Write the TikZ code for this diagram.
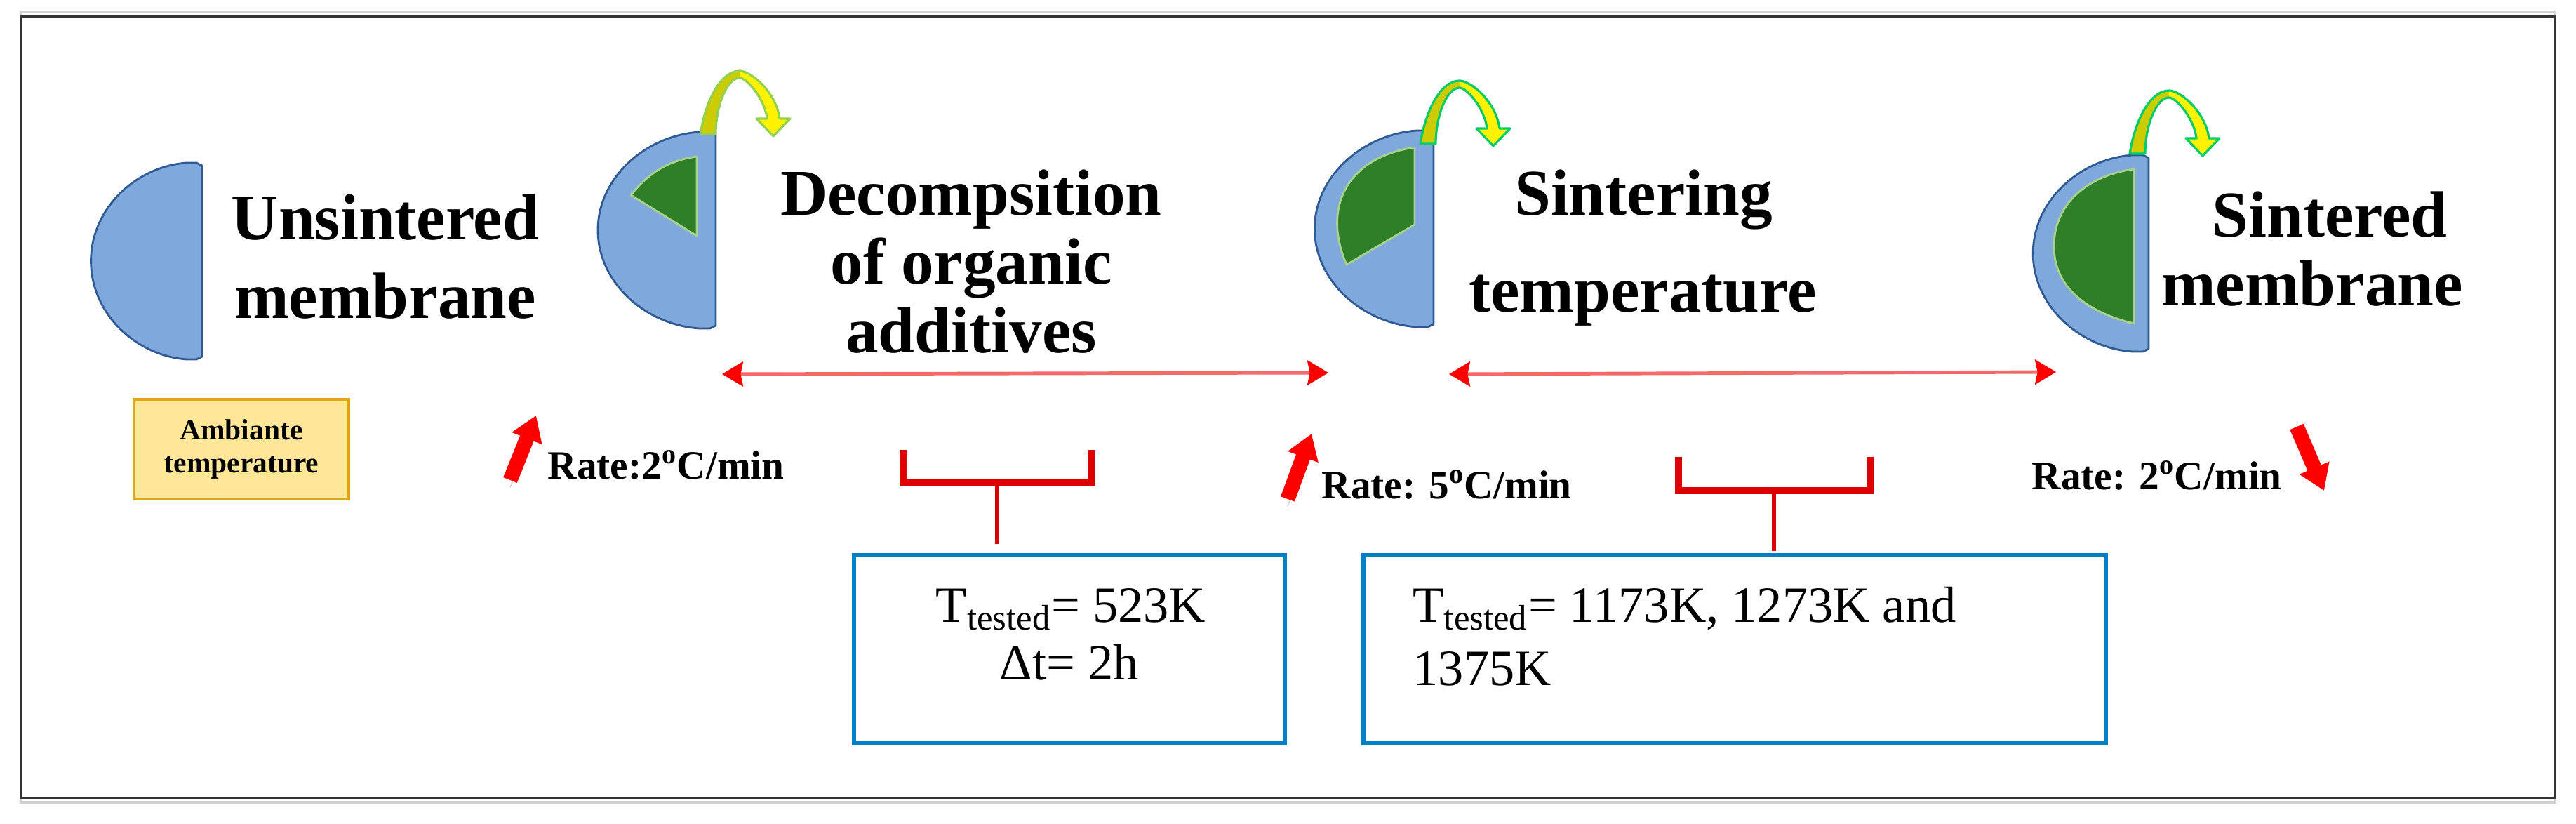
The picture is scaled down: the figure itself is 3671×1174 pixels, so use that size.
\documentclass[tikz,border=0pt]{standalone}
\usepackage{fontspec}
\setmainfont{Liberation Serif}
\usetikzlibrary{arrows.meta}

\definecolor{discblue}{HTML}{7FA8DC}
\definecolor{discline}{HTML}{2F5A93}
\definecolor{coregreen}{HTML}{2F7F28}
\definecolor{coreline}{HTML}{A9D18E}
\definecolor{darkyellow}{HTML}{CCCC00}
\definecolor{paleedge}{HTML}{92D050}
\definecolor{strongedge}{HTML}{00CC66}
\definecolor{boxblue}{HTML}{0080C8}
\definecolor{ambfill}{HTML}{FFE699}
\definecolor{ambline}{HTML}{E0A810}
\definecolor{rangered}{HTML}{F46A6A}
\definecolor{brackred}{HTML}{DD0000}

\tikzset{
	titlelabel/.style={font=\bfseries\fontsize{26.5}{32}\selectfont, align=center, inner sep=0pt, anchor=base},
	ratelabel/.style={font=\bfseries\fontsize{16.3}{20}\selectfont, inner sep=0pt, anchor=base west},
	testlabel/.style={font=\fontsize{20.6}{24}\selectfont, inner sep=0pt, anchor=base},
	testbox/.style={draw=boxblue, line width=1.7pt, minimum height=2.68cm},
	ambbox/.style={draw=ambline, fill=ambfill, line width=1.2pt, minimum width=3.06cm, minimum height=1.42cm,
		font=\bfseries\fontsize{11.8}{13.2}\selectfont, align=center},
	core/.style={fill=coregreen, draw=coreline, line width=0.8pt, line join=round},
	ratearrow/.style={line width=6pt, red, -{Triangle[length=10pt, width=12.5pt]},
		preaction={draw=black!40, -, opacity=.45, shorten >=16pt, transform canvas={yshift=-3pt}}},
	rangearrow/.style={draw=rangered, line width=1.4pt, {Stealth[red, length=8.5pt, width=10pt, inset=1pt]}-{Stealth[red, length=8.5pt, width=10pt, inset=1pt]}},
	bracketline/.style={draw=brackred, line width=2.6pt},
	stemline/.style={draw=brackred, line width=1.5pt},
	pics/halfdisc/.style={code={
		\draw[fill=discblue, draw=discline, line width=0.8pt, line join=round]
			(0,-136) -- (-8,-140) -- (-22,-140) .. controls (-95,-135) and (-160,-75) .. (-160,0)
			.. controls (-160,75) and (-95,135) .. (-22,140) -- (-8,140) -- (0,136) -- cycle;
	}},
	pics/turnarrow/.style={code={
		\fill[darkyellow] (0,0) .. controls (8,-50) and (30,-90) .. (56,-90) -- (56,-80)
			.. controls (38,-80) and (22,-40) .. (22,0) -- cycle;
		\fill[yellow] (56,-90) .. controls (72,-90) and (108,-60) .. (113,-22) -- (128,-22) -- (104,3)
			-- (80,-22) -- (95,-22) .. controls (92,-50) and (66,-80) .. (56,-80) -- cycle;
		\draw[#1, line width=0.9pt, line join=round]
			(0,0) .. controls (8,-50) and (30,-90) .. (56,-90)
			.. controls (72,-90) and (108,-60) .. (113,-22) -- (128,-22) -- (104,3)
			-- (80,-22) -- (95,-22) .. controls (92,-50) and (66,-80) .. (56,-80)
			.. controls (38,-80) and (22,-40) .. (22,0) -- cycle;
	}},
}

\begin{document}
\begin{tikzpicture}[x=0.01cm, y=-0.01cm]
	\useasboundingbox (0,0) rectangle (3671,1174);
	\draw[black!18, line width=1.4pt] (30,17) rectangle (3641,1143);
	\draw[black!80, line width=1.4pt] (30,23) rectangle (3641,1137);

	\pic[xscale=0.99] at (288,372) {halfdisc};
	\pic[xscale=1.05] at (1020,328) {halfdisc};
	\pic[xscale=1.06] at (2043,326) {halfdisc};
	\pic[xscale=1.03] at (3062,361) {halfdisc};

	\draw[core] (993,223) -- (993,336) -- (899,278) .. controls (925,245) and (955,228) .. (993,223) -- cycle;
	\draw[core] (2016,210) -- (2016,320) -- (1919,377) .. controls (1885,300) and (1915,225) .. (2016,210) -- cycle;
	\draw[core] (3041,241) -- (3041,461) .. controls (2975,445) and (2927,410) .. (2927,351) .. controls (2927,290) and (2975,250) .. (3041,241) -- cycle;

	\pic at (998,191) {turnarrow=paleedge};
	\pic at (2024,205) {turnarrow=strongedge};
	\pic at (3035,219) {turnarrow=strongedge};

	\node[titlelabel] (unsintered) at (549,454) {Unsintered\\membrane};
	\node[titlelabel, font=\bfseries\fontsize{26.5}{27.9}\selectfont] (decomp) at (1384,503) {Decompsition\\of organic\\additives};
	\node[titlelabel] (sintering) at (2342,307) {Sintering};
	\node[titlelabel] (temperature) at (2341,445) {temperature};
	\node[titlelabel] (sintered) at (3320,338) {Sintered};
	\node[titlelabel] (membrane) at (3295,436) {membrane};

	\node[ambbox] (ambiante) at (344,640) {Ambiante\\temperature};

	\coordinate (rangeAl) at (1029,533);
	\coordinate (rangeAr) at (1893,531);
	\coordinate (rangeBl) at (2065,533);
	\coordinate (rangeBr) at (2930,530);
	\draw[rangearrow] (rangeAl) -- (rangeAr);
	\draw[rangearrow] (rangeBl) -- (rangeBr);

	\coordinate (riseAs) at (727,684);
	\coordinate (riseAe) at (764,592);
	\coordinate (riseBs) at (1835,711);
	\coordinate (riseBe) at (1869,618);
	\coordinate (fallAs) at (3273,608);
	\coordinate (fallAe) at (3312,699);
	\draw[ratearrow] (riseAs) -- (riseAe);
	\draw[ratearrow] (riseBs) -- (riseBe);
	\draw[ratearrow] (fallAs) -- (fallAe);

	\node[ratelabel] (rateA) at (780,683) {Rate:2\textsuperscript{o}C/min};
	\node[ratelabel] (rateB) at (1883,711) {Rate: 5\textsuperscript{o}C/min};
	\node[ratelabel] (rateC) at (2895,698) {Rate: 2\textsuperscript{o}C/min};

	\node[testbox, minimum width=6.14cm] (boxA) at (1524,925) {};
	\node[testbox, minimum width=10.57cm] (boxB) at (2472,925) {};
	\node[testlabel] (testA) at (1526,887) {T\textsubscript{tested}= 523K};
	\node[testlabel] (timeA) at (1524,969) {Δt= 2h};
	\node[testlabel, anchor=base west] (testB) at (2013,887) {T\textsubscript{tested}= 1173K, 1273K and};
	\node[testlabel, anchor=base west] (testC) at (2013,977) {1375K};

	\coordinate (brAl) at (1287,641);
	\coordinate (brAm) at (1421,687);
	\coordinate (brAr) at (1556,641);
	\coordinate (brAs) at (1421,775);
	\coordinate (brBl) at (2392,651);
	\coordinate (brBm) at (2528,699);
	\coordinate (brBr) at (2665,651);
	\coordinate (brBs) at (2528,785);
	\draw[bracketline] (brAl) |- (brAm) -| (brAr);
	\draw[stemline] (brAm) -- (brAs);
	\draw[bracketline] (brBl) |- (brBm) -| (brBr);
	\draw[stemline] (brBm) -- (brBs);
\end{tikzpicture}
\end{document}
